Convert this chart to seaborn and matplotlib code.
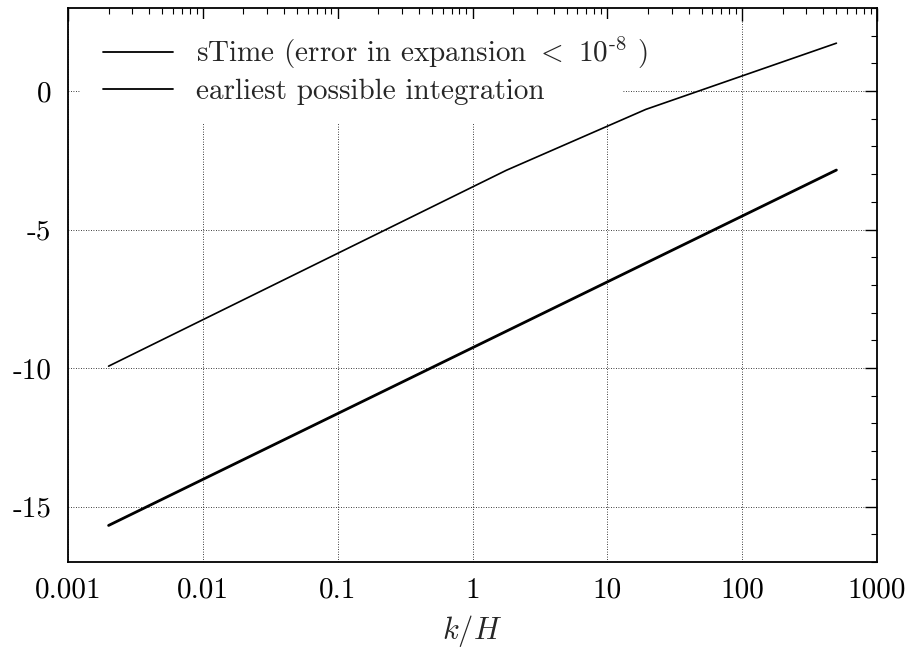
import matplotlib
matplotlib.use("Agg")
import matplotlib.pyplot as plt
import matplotlib.ticker as mticker
from matplotlib.patches import Rectangle
import seaborn as sns
import pandas as pd

# Data
stime_x = [0.002, 1.78, 19.3, 500.0]
stime_y = [-9.93, -2.86, -0.66, 1.73]
earliest_x = [0.002, 500.0]
earliest_y = [-15.68, -2.85]

x_ticks = [0.001, 0.01, 0.1, 1, 10, 100, 1000]
x_tick_labels = ["0.001", "0.01", "0.1", "1", "10", "100", "1000"]
y_ticks = [-15, -10, -5, 0]
y_tick_labels = ["-15", "-10", "-5", "0"]

label_stime = r"sTime (error in expansion $<$ 10$^{\text{-8}}$ )"
label_earliest = "earliest possible integration"

sns.set_style("white")
plt.rcParams["font.family"] = ["cmr10", "DejaVu Serif"]
plt.rcParams["mathtext.fontset"] = "cm"
plt.rcParams["axes.formatter.use_mathtext"] = True
plt.rcParams["axes.unicode_minus"] = False

FS = 21

fig = plt.figure(figsize=(9.14, 6.53), dpi=100)
ax = fig.add_axes([68 / 914, 1 - 562 / 653, (877 - 68) / 914, (562 - 8) / 653])

df1 = pd.DataFrame({"x": stime_x, "y": stime_y})
df2 = pd.DataFrame({"x": earliest_x, "y": earliest_y})
sns.lineplot(data=df1, x="x", y="y", ax=ax, color="black", linewidth=1.2,
             sort=False, estimator=None, label=label_stime, zorder=3)
sns.lineplot(data=df2, x="x", y="y", ax=ax, color="black", linewidth=2.0,
             sort=False, estimator=None, label=label_earliest, zorder=3)

ax.set_xscale("log")
ax.set_xlim(0.001, 1000)
ax.set_ylim(-17.0, 3.0)

ax.xaxis.set_major_locator(mticker.FixedLocator(x_ticks))
ax.xaxis.set_major_formatter(mticker.FixedFormatter(x_tick_labels))
ax.xaxis.set_minor_locator(mticker.LogLocator(base=10, subs=range(2, 10), numticks=20))
ax.xaxis.set_minor_formatter(mticker.NullFormatter())
ax.yaxis.set_major_locator(mticker.FixedLocator(y_ticks))
ax.yaxis.set_major_formatter(mticker.FixedFormatter(y_tick_labels))
ax.yaxis.set_minor_locator(mticker.MultipleLocator(1))

ax.tick_params(which="both", direction="in", top=True, right=True, colors="black",
               labelsize=FS)
ax.tick_params(which="major", length=9, width=1.0)
ax.tick_params(axis="x", which="major", pad=11)
ax.tick_params(axis="y", which="major", pad=12)
ax.tick_params(which="minor", length=4.5, width=0.8)
for s in ax.spines.values():
    s.set_color("black")
    s.set_linewidth(1.3)

ax.grid(True, which="major", linestyle=(0, (1, 2)), color="black", linewidth=0.6)
ax.set_axisbelow(True)

# white key area (covers grid behind the legend, like the original key);
# kept clear of the tick marks along the top and left spines
ax.add_patch(Rectangle((12 / 809, 1 - (123 - 8) / 554), (623 - 80) / 809, (123 - 19) / 554,
                       transform=ax.transAxes, facecolor="white", edgecolor="none",
                       zorder=1))

ax.set_xlabel(r"$k/H$", fontsize=FS + 1, labelpad=7)
ax.set_ylabel("")

leg = ax.legend(loc="upper left", bbox_to_anchor=((103 - 68) / 809, 1 - (35 - 8) / 554),
                fontsize=FS, frameon=False, handlelength=2.4, handletextpad=0.8,
                labelspacing=0.25, borderpad=0.0, borderaxespad=0.0)
for h in leg.get_lines():
    h.set_linewidth(1.3)

fig.savefig("out.png", dpi=100, facecolor="white")
